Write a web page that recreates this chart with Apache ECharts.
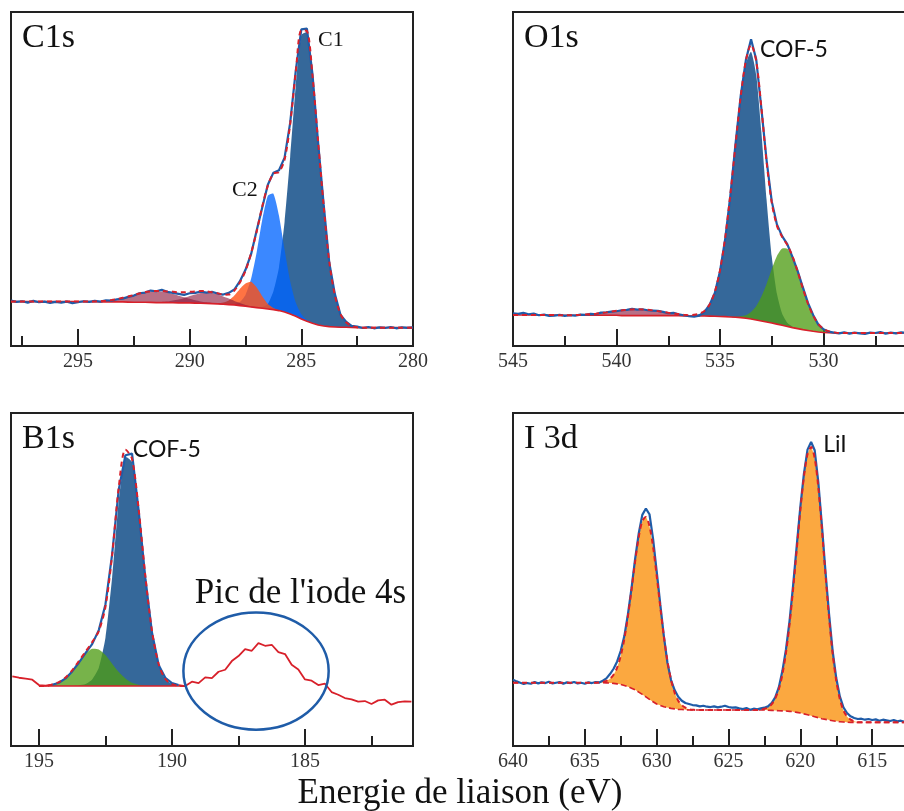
<!DOCTYPE html>
<html><head><meta charset="utf-8">
<script src="https://cdn.jsdelivr.net/npm/echarts@6/dist/echarts.min.js"></script>
<style>html,body{margin:0;padding:0;background:#fff}#c{width:904px;height:811px}</style>
</head><body><div id="c"></div>
<script>
// ================= DATA =================
// ---- C1s (binding energy grid 298 -> 280, step 0.25) ----
const c1sStart = 298, c1sStep = 0.25;
const c1sExp = [13.6,13.2,13.4,13.0,13.5,13.1,13.3,12.9,13.2,13.0,13.3,12.8,13.1,13.4,13.2,13.5,13.3,13.7,13.6,14.0,
  14.2,14.7,15.1,15.8,16.0,16.6,16.4,16.8,16.2,15.9,15.6,15.3,15.8,15.9,16.3,16.0,16.2,
  15.7,15.4,15.9,16.9,19.4,22.8,27.5,34.6,41.5,48.3,51.9,52.6,56.4,66.8,82.4,94.8,95.0,81.3,61.0,42.4,
  25.0,15.6,9.4,7.3,6.0,5.8,5.4,5.7,5.3,5.6,5.4,5.7,5.3,5.6,5.4,5.6];
const c1sBg = [13.3,13.3,13.3,13.3,13.3,13.3,13.3,13.3,13.3,13.3,13.3,13.3,13.3,13.3,13.3,
  13.25,13.2,13.2,13.2,13.2,13.2,13.15,13.1,13.1,13.1,13.05,13.0,13.0,13.0,12.95,12.9,12.9,12.9,12.85,12.8,12.75,12.7,
  12.6,12.5,12.4,12.3,12.1,11.9,11.7,11.5,11.3,11.1,10.9,10.6,10.2,9.6,8.9,8.1,7.4,6.8,6.3,6.0,
  5.8,5.7,5.6,5.6,5.55,5.5,5.5,5.5,5.5,5.5,5.5,5.5,5.5,5.5,5.5,5.5];
// components: [energy, height above background]
const c1sPeakC1 = [[287.25,0],[287,0.1],[286.75,0.4],[286.5,1.5],[286.25,5.5],[286,13],[285.75,27],[285.5,47],[285.25,69],[285,85],[284.75,86.5],[284.5,74],[284.25,55],[284,36],[283.75,19.5],[283.5,9.5],[283.25,4],[283,1.5],[282.75,0.5],[282.5,0.1],[282.25,0]];
const c1sPeakC2 = [[288.25,0],[288,0.3],[287.75,1.1],[287.5,3.4],[287.25,8.4],[287,16.6],[286.75,26.5],[286.5,33.9],[286.25,34.7],[286,28.4],[285.75,18.6],[285.5,9.8],[285.25,4.1],[285,1.4],[284.75,0.4],[284.5,0.1],[284.25,0]];
const c1sPeakC3 = [[289,0],[288.75,0.2],[288.5,0.5],[288.25,1.2],[288,2.8],[287.75,5.0],[287.5,6.8],[287.25,7.5],[287,6.0],[286.75,3.6],[286.5,1.5],[286.25,0.5],[286,0.1],[285.75,0]];
const c1sPeakC4 = [[295,0],[294.5,0.06],[294.25,0.11],[294,0.2],[293.75,0.34],[293.5,0.55],[293.25,0.84],[293,1.22],[292.75,1.67],[292.5,2.16],[292.25,2.63],[292,3.03],[291.75,3.3],[291.5,3.4],[291.25,3.3],[291,3.03],[290.75,2.63],[290.5,2.16],[290.25,1.67],[290,1.22],[289.75,0.84],[289.5,0.55],[289.25,0.34],[289,0.2],[288.75,0.11],[288.5,0.06],[288.25,0]];
const c1sPeakC5 = [[291.75,0],[291.5,0.1],[291.25,0.2],[291,0.3],[290.75,0.7],[290.5,1.0],[290.25,1.5],[290,2.1],[289.75,2.6],[289.5,3.1],[289.25,3.3],[289,3.2],[288.75,2.9],[288.5,2.3],[288.25,1.8],[288,1.2],[287.75,0.8],[287.5,0.4],[287.25,0.2],[287,0.1],[286.75,0]];
const c1sMajor = [280,285,290,295], c1sMinor = [282.5,287.5,292.5,297.5];

// ---- O1s (545 -> 525, step 0.25) ----
const o1sStart = 545, o1sStep = 0.25;
const o1sExp = [9.8,9.6,9.9,9.5,9.7,9.2,9.4,9.0,9.1,9.3,9.0,9.2,9.1,9.4,9.3,9.6,9.5,10.0,10.1,10.3,
  10.4,10.7,10.8,11.1,10.9,11.0,10.7,10.6,10.5,10.2,9.8,9.9,9.5,9.2,8.9,8.8,9.1,
  10.2,12.4,15.9,22.4,32.0,45.0,60.5,74.9,85.6,91.8,85.8,71.0,55.6,43.3,36.4,32.9,30.5,26.7,22.5,17.6,12.9,9.3,6.4,5.0,4.3,4.0,
  3.8,4.1,3.7,4.0,3.8,3.6,4.0,3.9,4.2,3.7,4.0,3.8,4.1,3.9,3.7,4.0,3.8,3.9];
const o1sBg = [9.3,9.3,9.3,9.3,9.3,9.3,9.3,9.3,9.3,
  9.2,9.2,9.2,9.2,9.2,9.2,9.2,9.2,9.2,9.2,9.2,9.2,
  9.1,9.1,9.1,9.1,9.1,9.1,9.1,9.1,9.1,9.1,9.1,9.1,
  9.0,9.0,9.0,9.0,
  9.0,8.95,8.9,8.85,8.8,8.7,8.6,8.5,8.3,8.1,7.8,7.5,7.2,6.9,6.55,6.2,5.85,5.5,5.2,4.9,4.65,4.4,4.2,4.05,3.95,3.9,
  3.9,3.9,3.9,3.9,3.9,3.9,3.9,3.9,3.9,3.9,3.9,3.9,3.9,3.9,3.9,3.9,3.9,3.9];
const o1sPeakMain = [[536.5,0],[536.25,0.2],[536,0.6],[535.75,1.5],[535.5,3.5],[535.25,7.3],[535,13.8],[534.75,23.6],[534.5,36.7],[534.25,51.5],[534,65.8],[533.75,76.2],[533.5,80],[533.25,73.4],[533,56.5],[532.75,36.6],[532.5,19.9],[532.25,9.1],[532,3.5],[531.75,1.1],[531.5,0.3],[531.25,0]];
const o1sPeakGreen = [[534.5,0],[534.25,0.15],[534,0.4],[533.75,0.9],[533.5,2.1],[533.25,4.1],[533,7.3],[532.75,11.4],[532.5,16.1],[532.25,20.4],[532,23.0],[531.75,23.3],[531.5,21.1],[531.25,17.1],[531,12.4],[530.75,8.0],[530.5,4.7],[530.25,2.4],[530,1.1],[529.75,0.5],[529.5,0.2],[529.25,0]];
const o1sPeakSat = [[542.25,0],[542,0.08],[541.75,0.14],[541.5,0.22],[541.25,0.33],[541,0.47],[540.75,0.66],[540.5,0.87],[540.25,1.1],[540,1.34],[539.75,1.56],[539.5,1.74],[539.25,1.86],[539,1.9],[538.75,1.86],[538.5,1.74],[538.25,1.56],[538,1.34],[537.75,1.1],[537.5,0.87],[537.25,0.66],[537,0.47],[536.75,0.33],[536.5,0.22],[536.25,0.14],[536,0.08],[535.75,0]];
const o1sMajor = [525,530,535,540,545], o1sMinor = [527.5,532.5,537.5,542.5];

// ---- B1s (196 -> 181, step 0.25) ----
const b1sStart = 196, b1sStep = 0.25;
const b1sExp = [20.9,20.5,20.2,19.9,18.3,18.1,18.4,19.0,20.3,22.4,25.0,27.9,30.6,34.8,42.5,57.5,77.0,87.3,87.8,70.5,
  50.4,34.0,24.3,20.5,18.9,18.3,18.0,19.3,18.9,20.6,20.4,22.3,22.9,25.5,27.0,29.1,28.6,30.9,30.1,30.4,
  28.2,27.6,24.4,23.0,20.0,19.6,18.3,18.7,16.2,15.4,14.4,14.0,13.3,13.5,12.6,13.7,13.9,12.4,13.2,13.4,13.3];
const b1sFitFrom = 194.5, b1sFitTo = 189.75;
const b1sBgStart = 195;
const b1sBg = [18,18,18,18,18,18,18,18,18,18,18,18,18,18,18,18,18,18,18,18,18,18,18];
const b1sPeakMain = [[193.75,0],[193.5,0.2],[193.25,0.6],[193,2.0],[192.75,5.5],[192.5,14.5],[192.25,32.5],[192,55.5],[191.75,68.7],[191.5,67.2],[191.25,52.6],[191,32.9],[190.75,16.5],[190.5,6.6],[190.25,2.1],[190,0.6],[189.75,0.1],[189.5,0]];
const b1sPeakGreen = [[194.75,0],[194.5,0.5],[194.25,1.2],[194,2.6],[193.75,4.7],[193.5,7.3],[193.25,9.7],[193,11.2],[192.75,11.0],[192.5,9.3],[192.25,6.7],[192,4.2],[191.75,2.3],[191.5,1.0],[191.25,0.4],[191,0.1],[190.75,0]];
const b1sMajor = [185,190,195], b1sMinor = [182.5,187.5,192.5];

// ---- I 3d (640 -> 610, step 0.25) ----
const i3dStart = 640, i3dStep = 0.25;
const i3dExp = [19.9,19.4,19.0,18.6,18.9,18.7,19.2,18.8,19.1,18.9,19.3,18.8,19.0,19.2,18.7,19.1,18.9,19.2,18.8,19.0,18.7,19.1,18.9,19.2,19.1,
  19.6,20.3,21.6,23.2,25.4,28.6,33.0,39.6,47.4,56.2,63.8,69.4,71.3,69.6,62.2,52.5,42.6,33.0,25.0,19.8,16.8,14.8,13.6,12.9,
  12.6,12.3,12.2,11.9,12.1,11.8,11.7,11.9,11.6,11.8,12.1,11.7,11.5,11.6,11.3,11.1,11.4,10.9,11.2,11.0,11.3,11.5,
  11.9,12.9,14.6,17.6,22.5,29.0,37.6,48.4,60.2,71.8,81.8,89.0,91.3,88.8,79.3,66.4,52.4,39.6,28.5,20.4,14.9,11.6,9.9,8.9,
  8.4,8.1,8.2,7.9,8.1,7.8,8.0,7.6,7.9,7.7,7.5,7.8,7.4,7.6,7.3,7.5,7.2,7.4,7.3,7.1,7.4,7.2,7.3,7.1,7.2,7.3];
const i3dBg = [19,19,19,19,19,19,19,19,19,19,19,19,19,19,19,19,19,19,19,19,19,19,19,19,19,
  19.0,18.95,18.9,18.8,18.65,18.5,18.15,17.8,17.35,16.9,16.2,15.5,14.75,14.0,13.3,12.6,12.2,11.8,11.55,11.3,11.15,11.0,10.95,10.9,
  10.8,10.8,10.8,10.8,10.8,10.8,10.8,10.8,10.8,10.8,10.8,10.8,10.8,10.8,10.8,10.8,10.8,10.8,10.8,10.8,10.8,10.8,
  10.75,10.7,10.65,10.6,10.55,10.5,10.4,10.3,10.1,9.9,9.65,9.4,9.1,8.8,8.5,8.2,8.0,7.8,7.6,7.4,7.3,7.2,7.15,7.1,
  7.1,7.1,7.1,7.1,7.1,7.1,7.1,7.1,7.1,7.1,7.1,7.1,7.1,7.1,7.1,7.1,7.1,7.1,7.1,7.1,7.1,7.1,7.1,7.1,7.1,7.1];
const i3dPeak52 = [[634.25,0],[634,0.1],[633.75,0.2],[633.5,0.6],[633.25,1.3],[633,2.6],[632.75,4.9],[632.5,8.6],[632.25,14.0],[632,21.2],[631.75,29.6],[631.5,38.5],[631.25,46.5],[631,52.0],[630.75,54],[630.5,52.0],[630.25,46.5],[630,38.5],[629.75,29.6],[629.5,21.2],[629.25,14.0],[629,8.6],[628.75,4.9],[628.5,2.6],[628.25,1.3],[628,0.6],[627.75,0.2],[627.5,0.1],[627.25,0]];
const i3dPeak32 = [[623,0],[622.75,0.2],[622.5,0.4],[622.25,0.9],[622,1.8],[621.75,3.6],[621.5,6.4],[621.25,10.9],[621,17.5],[620.75,26.2],[620.5,36.9],[620.25,48.9],[620,60.9],[619.75,71.2],[619.5,78.2],[619.25,80.7],[619,77.6],[618.75,69.2],[618.5,57.0],[618.25,43.5],[618,30.8],[617.75,20.1],[617.5,12.2],[617.25,6.8],[617,3.5],[616.75,1.7],[616.5,0.8],[616.25,0.3],[616,0]];
const i3dMajor = [610,615,620,625,630,635,640], i3dMinor = [612.5,617.5,622.5,627.5,632.5,637.5];

// ================= STYLE / LAYOUT =================
const SERIF = '"Liberation Serif","Times New Roman",serif';
const SANS = 'Lato,"Open Sans",sans-serif';
const BLUE = '#1f5ca8', RED = '#d8202a', FRAME = '#222';
const MAROON = 'rgba(140,25,60,0.62)';

const panels = [
  {title:'C1s', grid:{left:11, top:12, width:402, height:334}, min:280, max:298, major:c1sMajor, minor:c1sMinor,
   expStart:c1sStart, step:c1sStep, exp:c1sExp, bgStart:c1sStart, bg:c1sBg,
   comps:[{d:c1sPeakC1, color:'#35689a'},{d:c1sPeakC2, color:'rgba(0,100,255,0.77)'},{d:c1sPeakC3, color:'rgba(255,80,20,0.8)'},
          {d:c1sPeakC4, color:MAROON},{d:c1sPeakC5, color:MAROON}]},
  {title:'O1s', grid:{left:513, top:12, width:414, height:334}, min:525, max:545, major:o1sMajor, minor:o1sMinor,
   expStart:o1sStart, step:o1sStep, exp:o1sExp, bgStart:o1sStart, bg:o1sBg,
   comps:[{d:o1sPeakMain, color:'#35689a'},{d:o1sPeakGreen, color:'rgba(78,156,20,0.77)'},{d:o1sPeakSat, color:MAROON}]},
  {title:'B1s', grid:{left:11, top:413, width:402, height:333}, min:180.94, max:196.05, major:b1sMajor, minor:b1sMinor,
   expStart:b1sStart, step:b1sStep, exp:b1sExp, bgStart:b1sBgStart, bg:b1sBg, fitRange:[b1sFitFrom, b1sFitTo],
   comps:[{d:b1sPeakMain, color:'#35689a'},{d:b1sPeakGreen, color:'rgba(78,156,20,0.77)'}]},
  {title:'I 3d', grid:{left:513, top:413, width:431, height:333}, min:610, max:640, major:i3dMajor, minor:i3dMinor,
   expStart:i3dStart, step:i3dStep, exp:i3dExp, bgStart:i3dStart, bg:i3dBg, bgDash:true,
   comps:[{d:i3dPeak52, color:'#fba840'},{d:i3dPeak32, color:'#fba840'}]}
];

const key = x => (+x).toFixed(2);
const seq = (start, step, vals) => vals.map((v,i) => [+(start - i*step).toFixed(2), v]);

// custom renderer: filled band between background (dim 1) and background+component (dim 2)
function bandRenderer(color) {
  return function (params, api) {
    if (params.dataIndexInside !== 0) return null;
    const n = params.dataInsideLength;
    const top = [], bot = [];
    for (let i = 0; i < n; i++) {
      top.push(api.coord([api.value(0, i), api.value(2, i)]));
      bot.push(api.coord([api.value(0, i), api.value(1, i)]));
    }
    return {type:'polygon', shape:{points: top.concat(bot.reverse()), smooth: 0.2},
            style:{fill: color, stroke: null}};
  };
}

const grids = [], xAxes = [], yAxes = [], series = [];
panels.forEach((P, pi) => {
  grids.push(Object.assign({show:true, borderColor:FRAME, borderWidth:2, outerBoundsMode:'none', containLabel:false}, P.grid));
  const tickStyle = {color:FRAME, width:2};
  xAxes.push({type:'value', gridIndex:pi, position:'bottom', min:P.min, max:P.max, inverse:true,
    axisLine:{show:false}, splitLine:{show:false},
    axisTick:{show:true, inside:true, length:17, lineStyle:tickStyle, customValues:P.major},
    axisLabel:{show:true, customValues:P.major, margin:6, color:'#333', fontSize:20, fontFamily:SERIF}});
  xAxes.push({type:'value', gridIndex:pi, position:'bottom', offset:0, min:P.min, max:P.max, inverse:true,
    axisLine:{show:false}, splitLine:{show:false},
    axisTick:{show:true, inside:true, length:10, lineStyle:tickStyle, customValues:P.minor},
    axisLabel:{show:false}});
  yAxes.push({type:'value', gridIndex:pi, min:0, max:100, show:false});

  const common = {type:'line', xAxisIndex:pi*2, yAxisIndex:pi, symbol:'none', silent:true, animation:false};
  const bgPts = seq(P.bgStart, P.step, P.bg);
  const bgMap = new Map(bgPts.map(([x,y]) => [key(x), y]));
  // component areas
  P.comps.forEach((c) => {
    series.push({type:'custom', xAxisIndex:pi*2, yAxisIndex:pi, z:2, silent:true, animation:false,
      data: c.d.map(([x,h]) => { const b = bgMap.get(key(x)); return [x, b, b + h]; }),
      encode:{x:0, y:[1,2]}, renderItem: bandRenderer(c.color)});
  });
  // background line
  series.push(Object.assign({}, common, {z:3, data:bgPts,
    lineStyle:{color:RED, width:1.6, type:P.bgDash ? [6,3] : 'solid'}}));
  // experimental curve
  const expPts = seq(P.expStart, P.step, P.exp);
  if (P.fitRange) {
    const [hi, lo] = P.fitRange;
    const inFit = expPts.filter(([x]) => x <= hi + 1e-6 && x >= lo - 1e-6);
    series.push(Object.assign({}, common, {z:3, data:expPts.filter(([x]) => x >= hi - 1e-6), lineStyle:{color:RED, width:1.8}}));
    series.push(Object.assign({}, common, {z:3, data:expPts.filter(([x]) => x <= lo + 1e-6), lineStyle:{color:RED, width:1.8}}));
    series.push(Object.assign({}, common, {z:4, data:inFit, lineStyle:{color:BLUE, width:2.2}}));
  } else {
    series.push(Object.assign({}, common, {z:4, data:expPts, lineStyle:{color:BLUE, width:2.2}}));
  }
  // fit envelope = background + sum of components
  const compMaps = P.comps.map(c => new Map(c.d.map(([x,h]) => [key(x), h])));
  const fitPts = bgPts.map(([x,b]) => [x, b + compMaps.reduce((s,m) => s + (m.get(key(x)) || 0), 0)]);
  series.push(Object.assign({}, common, {z:5, smooth:0.3, data:fitPts, lineStyle:{color:RED, width:2, type:[5,4]}}));
});

const chart = echarts.init(document.getElementById('c'), null, {renderer:'canvas'});
chart.setOption({animation:false, backgroundColor:'#fff', grid:grids, xAxis:xAxes, yAxis:yAxes, series});

// ================= ANNOTATIONS =================
const annotations = [
  {p:0, text:'C1', x:284.25, y:91.6, font:SERIF, size:22},
  {p:0, text:'C2', x:288.1, y:46.7, font:SERIF, size:22},
  {p:1, text:'COF-5', x:533.07, y:88.6, font:SANS, size:23},
  {p:2, text:'COF-5', x:191.47, y:88.9, font:SANS, size:23},
  {p:3, text:'LiI', x:618.41, y:90.4, font:SANS, size:23},
  {p:2, text:"Pic de l'iode 4s", x:185.17, y:45.6, font:SERIF, size:35, align:'center'}
];
const ellipse = {p:2, x:186.84, y:22.5, rx:2.73, ry:17.6};
const toPx = (p, x, y) => chart.convertToPixel({xAxisIndex:p*2, yAxisIndex:p}, [x, y]);

const graphics = [];
panels.forEach(P => {
  graphics.push({type:'text', z:10, x:P.grid.left + 11, y:P.grid.top + 26,
    style:{text:P.title, fontSize:34, fontFamily:SERIF, fill:'#111', align:'left', verticalAlign:'middle'}});
});
annotations.forEach(a => {
  const [px, py] = toPx(a.p, a.x, a.y);
  graphics.push({type:'text', z:10, x:px, y:py,
    style:{text:a.text, fontSize:a.size, fontFamily:a.font, fill:'#111', align:a.align || 'left', verticalAlign:'middle'}});
});
{
  const [cx, cy] = toPx(ellipse.p, ellipse.x, ellipse.y);
  const [ex] = toPx(ellipse.p, ellipse.x - ellipse.rx, ellipse.y);
  const [, ey] = toPx(ellipse.p, ellipse.x, ellipse.y + ellipse.ry);
  graphics.push({type:'ellipse', z:10, shape:{cx, cy, rx:Math.abs(ex - cx), ry:Math.abs(cy - ey)},
    style:{fill:'none', stroke:BLUE, lineWidth:2.5}});
}
graphics.push({type:'text', z:10, x:460, y:794,
  style:{text:'Energie de liaison (eV)', fontSize:35, fontFamily:SERIF, fill:'#111', align:'center', verticalAlign:'middle'}});
chart.setOption({graphic:{elements:graphics}});
</script></body></html>
